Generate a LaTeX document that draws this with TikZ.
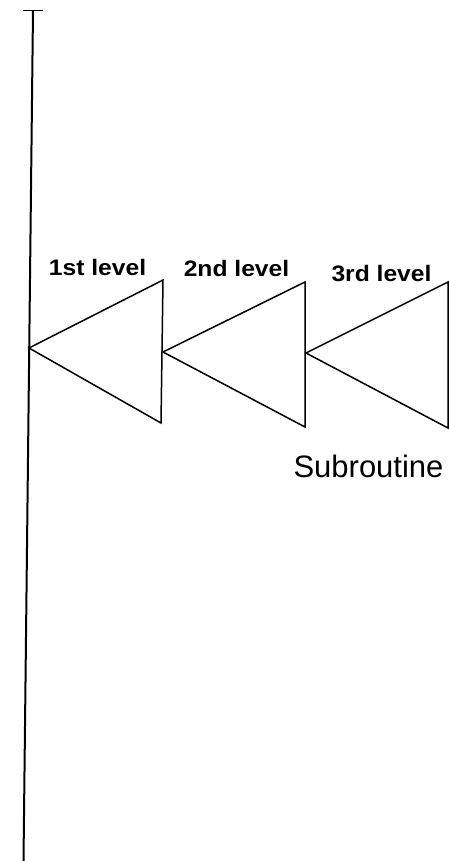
\documentclass[tikz,border=0pt]{standalone}
\usepackage{fontspec}
\setmainfont{Liberation Sans}
\newfontfamily\lblfont[FakeStretch=1.1]{Liberation Sans}
\begin{document}
\begin{tikzpicture}[x=0.5pt,y=-0.5pt,
  tri/.style={line width=0.75pt, line join=miter},
  lvl/.style={font=\lblfont\bfseries\fontsize{11.2}{13}\selectfont, inner sep=0pt, anchor=base},
  sub/.style={font=\fontsize{15.5}{18}\selectfont, inner sep=0pt, anchor=base}]
\useasboundingbox (0,0) rectangle (449,861);
% main vertical line with top bar
\coordinate (top) at (33,10.5);
\coordinate (bot) at (23.5,861);
\coordinate (barL) at (23,10.5);
\coordinate (barR) at (43,10.5);
\draw[line width=1pt] (top) -- (bot);
\draw[line width=0.9pt] (barL) -- (barR);
% triangles
\coordinate (a1) at (29,348);  \coordinate (t1) at (163,280); \coordinate (b1) at (161,423);
\coordinate (a2) at (163,352); \coordinate (t2) at (305,282); \coordinate (b2) at (305,427);
\coordinate (a3) at (306,353); \coordinate (t3) at (448,282); \coordinate (b3) at (448,428);
\draw[tri] (a1) -- (t1) -- (b1) -- cycle;
\draw[tri] (a2) -- (t2) -- (b2) -- cycle;
\draw[tri] (a3) -- (t3) -- (b3) -- cycle;
% labels
\node[lvl] (l1) at (97.5,275) {1st level};
\node[lvl] (l2) at (236.5,276) {2nd level};
\node[lvl] (l3) at (381.5,281) {3rd level};
\node[sub] (s) at (368.5,477) {Subroutine};
\end{tikzpicture}
\end{document}
